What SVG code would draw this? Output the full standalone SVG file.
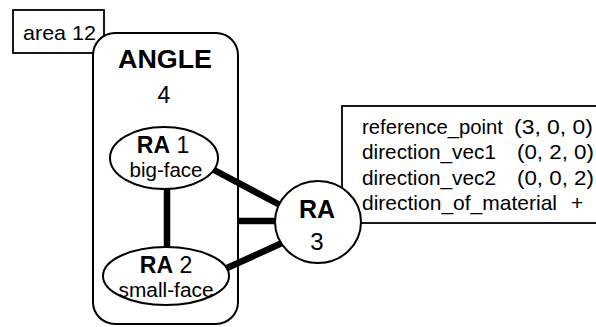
<svg xmlns="http://www.w3.org/2000/svg" width="596" height="327" viewBox="0 0 596 327">
<style>
text{font-family:"Liberation Sans",Arial,Helvetica,sans-serif;fill:#000}
.box{fill:#fff;stroke:#000;stroke-width:1.8}
.node{fill:#fff;stroke:#000;stroke-width:2}
.edge{stroke:#000;stroke-width:6.5;stroke-linecap:butt}
.b{font-weight:bold}
.info{font-size:21px}
</style>
<rect width="596" height="327" fill="#fff"/>
<g id="area">
<rect class="box" x="13" y="10" width="91" height="43"/>
<text x="23" y="40" font-size="21" textLength="73" lengthAdjust="spacingAndGlyphs">area 12</text>
</g>
<g id="angle">
<rect class="node" x="93" y="33" width="145" height="291" rx="22" ry="22"/>
<text class="b" x="165" y="68" font-size="26" text-anchor="middle" textLength="94" lengthAdjust="spacingAndGlyphs">ANGLE</text>
<text x="164" y="103" font-size="23" text-anchor="middle">4</text>
</g>
<g id="connectors">
<line class="edge" x1="167" y1="187" x2="167" y2="248"/>
<line class="edge" x1="214" y1="170" x2="280" y2="205"/>
<line class="edge" x1="238" y1="221" x2="276" y2="221"/>
<line class="edge" x1="227" y1="268" x2="282" y2="243"/>
</g>
<g id="ra1">
<ellipse class="node" cx="164" cy="158" rx="54" ry="31"/>
<text x="163" y="153" font-size="23" text-anchor="middle"><tspan class="b">RA</tspan> 1</text>
<text x="166" y="177" font-size="20" text-anchor="middle" textLength="73" lengthAdjust="spacingAndGlyphs">big-face</text>
</g>
<g id="ra2">
<ellipse class="node" cx="166" cy="276" rx="63" ry="29"/>
<text x="166" y="273" font-size="23" text-anchor="middle"><tspan class="b">RA</tspan> 2</text>
<text x="166" y="297" font-size="20" text-anchor="middle" textLength="95" lengthAdjust="spacingAndGlyphs">small-face</text>
</g>
<g id="info">
<rect class="box" x="342" y="106" width="262" height="117"/>
<text class="info" x="362" y="134" textLength="141" lengthAdjust="spacingAndGlyphs">reference_point</text>
<text class="info" x="514" y="134" textLength="79" lengthAdjust="spacingAndGlyphs">(3, 0, 0)</text>
<text class="info" x="362" y="159" textLength="134" lengthAdjust="spacingAndGlyphs">direction_vec1</text>
<text class="info" x="517" y="159" textLength="77" lengthAdjust="spacingAndGlyphs">(0, 2, 0)</text>
<text class="info" x="362" y="184.5" textLength="134" lengthAdjust="spacingAndGlyphs">direction_vec2</text>
<text class="info" x="517" y="184.5" textLength="77" lengthAdjust="spacingAndGlyphs">(0, 0, 2)</text>
<text class="info" x="362" y="210" textLength="195" lengthAdjust="spacingAndGlyphs">direction_of_material</text>
<text class="info" x="571" y="210">+</text>
</g>
<g id="ra3">
<ellipse class="node" cx="318" cy="222" rx="43" ry="41"/>
<text class="b" x="317" y="218" font-size="25" text-anchor="middle">RA</text>
<text x="317" y="250" font-size="24" text-anchor="middle">3</text>
</g>
</svg>
